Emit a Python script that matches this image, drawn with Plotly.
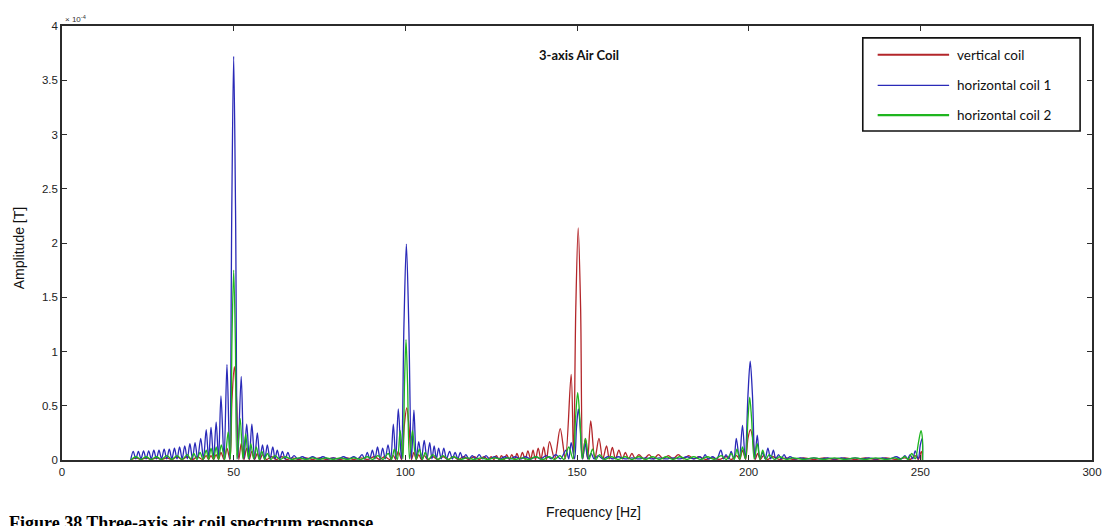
import plotly.graph_objects as go

# Amplitudes in units of 1e-4 T (axis shows "x 10^-4")
BLUE_F = [20.0, 20.75, 21.5, 22.25, 23.0, 23.75, 24.5, 25.25, 26.0, 26.75, 27.5, 28.25, 29.0, 29.75, 30.5, 31.25,
          32.0, 32.75, 33.5, 34.25, 35.0, 35.75, 36.5, 37.25, 38.0, 38.75, 39.5, 40.4, 41.2, 42.0, 42.7, 43.4,
          44.15, 44.9, 45.6, 46.3, 47.2, 48.05, 48.85, 49.45, 50.0, 50.55, 51.2, 52.2, 53.0, 53.8, 54.55, 55.3,
          56.1, 56.9, 57.65, 58.4, 59.1, 59.8, 60.6, 61.4, 62.05, 62.7, 63.45, 64.2, 65.0, 65.8, 66.6, 67.6,
          68.6, 70.0, 71.5, 73.0, 74.5, 76.0, 77.5, 79.0, 80.5, 82.0, 83.5, 85.0, 86.2, 87.4, 88.15, 88.9,
          89.65, 90.4, 91.15, 91.9, 92.65, 93.4, 94.15, 94.95, 95.75, 96.5, 97.2, 97.95, 98.85, 99.6, 100.3, 101.0,
          101.8, 102.5, 103.2, 103.9, 104.7, 105.5, 106.3, 107.1, 107.75, 108.4, 109.05, 109.7, 110.45, 111.2, 112.0, 112.9,
          113.7, 114.5, 115.3, 116.0, 116.8, 117.6, 118.5, 119.5, 120.5, 121.5, 122.5, 123.5, 124.5, 126.0, 127.5, 129.0,
          130.5, 132.0, 133.5, 135.0, 136.5, 138.0, 139.5, 141.0, 142.5, 143.8, 145.2, 146.8, 147.6, 148.3, 149.3, 149.85,
          150.4, 150.95, 151.6, 152.4, 153.2, 154.1, 155.0, 156.2, 157.5, 159.0, 160.5, 162.0, 164.0, 166.0, 168.0, 170.0,
          172.0, 174.0, 176.0, 178.0, 180.0, 182.0, 184.0, 185.8, 186.6, 187.3, 188.2, 189.5, 190.7, 191.9, 192.7, 193.4,
          194.2, 194.9, 195.7, 196.4, 197.3, 198.2, 199.0, 199.8, 200.45, 201.1, 201.8, 202.5, 203.3, 204.1, 204.8, 205.6,
          206.4, 207.2, 207.9, 208.7, 209.5, 210.3, 211.1, 212.0, 213.5, 215.0, 217.0, 219.0, 221.0, 223.0, 225.0, 227.0,
          229.0, 231.0, 233.0, 235.0, 237.0, 239.0, 241.0, 243.0, 244.5, 245.5, 246.3, 247.0, 247.8, 248.5, 249.4, 250.0,
          250.55, 250.65]
BLUE_A = [0.0, 0.08, 0.01, 0.08, 0.01, 0.085, 0.01, 0.085, 0.01, 0.09, 0.01, 0.09, 0.01, 0.1, 0.01, 0.1,
          0.01, 0.11, 0.01, 0.12, 0.01, 0.13, 0.01, 0.15, 0.01, 0.16, 0.01, 0.2, 0.01, 0.28, 0.01, 0.3,
          0.01, 0.35, 0.01, 0.59, 0.01, 0.88, 0.01, 2.3, 3.72, 2.3, 0.01, 0.77, 0.01, 0.33, 0.01, 0.33,
          0.01, 0.25, 0.01, 0.14, 0.01, 0.14, 0.01, 0.12, 0.01, 0.09, 0.01, 0.08, 0.01, 0.07, 0.01, 0.04,
          0.01, 0.03, 0.01, 0.03, 0.01, 0.03, 0.01, 0.02, 0.01, 0.03, 0.01, 0.03, 0.01, 0.05, 0.01, 0.07,
          0.01, 0.09, 0.01, 0.12, 0.01, 0.11, 0.01, 0.14, 0.01, 0.33, 0.01, 0.47, 0.01, 1.25, 1.99, 1.25,
          0.01, 0.46, 0.01, 0.17, 0.01, 0.18, 0.01, 0.16, 0.01, 0.13, 0.01, 0.11, 0.01, 0.11, 0.01, 0.08,
          0.01, 0.07, 0.01, 0.07, 0.01, 0.05, 0.01, 0.04, 0.01, 0.05, 0.01, 0.04, 0.01, 0.03, 0.01, 0.03,
          0.01, 0.03, 0.01, 0.03, 0.01, 0.03, 0.01, 0.04, 0.01, 0.05, 0.01, 0.09, 0.01, 0.16, 0.01, 0.3,
          0.47, 0.3, 0.01, 0.15, 0.01, 0.06, 0.01, 0.04, 0.01, 0.03, 0.01, 0.03, 0.01, 0.02, 0.01, 0.02,
          0.01, 0.02, 0.01, 0.02, 0.01, 0.03, 0.01, 0.03, 0.01, 0.05, 0.01, 0.03, 0.01, 0.09, 0.01, 0.05,
          0.01, 0.08, 0.01, 0.2, 0.01, 0.32, 0.01, 0.6, 0.91, 0.6, 0.01, 0.23, 0.01, 0.07, 0.01, 0.11,
          0.01, 0.09, 0.01, 0.05, 0.01, 0.05, 0.01, 0.03, 0.01, 0.02, 0.01, 0.02, 0.01, 0.02, 0.01, 0.02,
          0.01, 0.02, 0.01, 0.02, 0.01, 0.02, 0.01, 0.03, 0.01, 0.04, 0.01, 0.05, 0.01, 0.085, 0.01, 0.14,
          0.2, 0.0]

RED_F = [20.0, 21.5, 23.0, 24.5, 26.0, 27.5, 29.0, 30.5, 32.0, 33.5, 35.0, 36.5, 38.0, 39.5, 41.0, 42.0,
         42.7, 43.4, 44.15, 44.9, 45.6, 46.3, 47.2, 48.05, 48.9, 49.5, 50.2, 50.85, 51.5, 52.2, 53.0, 53.8,
         54.55, 55.3, 56.1, 56.9, 57.65, 58.4, 59.5, 61.0, 62.5, 64.0, 65.5, 67.0, 69.0, 71.0, 73.0, 75.0,
         77.0, 79.0, 81.0, 83.0, 85.0, 87.0, 89.0, 91.0, 92.5, 94.0, 95.5, 96.5, 97.2, 97.95, 98.9, 99.65,
         100.4, 101.1, 101.8, 102.5, 103.2, 103.9, 104.7, 105.5, 106.5, 108.0, 109.5, 111.0, 112.5, 114.0, 115.5, 117.0,
         118.5, 120.0, 121.5, 123.0, 124.0, 125.0, 125.8, 126.5, 127.3, 128.0, 128.8, 129.5, 130.3, 131.0, 131.8, 132.5,
         133.3, 134.1, 134.9, 135.7, 136.5, 137.2, 137.9, 138.7, 139.5, 140.3, 141.1, 142.0, 143.5, 145.1, 146.6, 148.3,
         149.0, 149.65, 150.35, 151.05, 151.7, 152.4, 153.1, 154.0, 155.2, 156.4, 157.5, 158.6, 159.4, 160.3, 161.2, 162.2,
         163.2, 164.1, 165.0, 166.0, 167.0, 168.0, 169.5, 171.0, 172.3, 173.7, 175.1, 176.6, 178.0, 179.5, 181.0, 182.5,
         184.0, 185.5, 187.5, 189.5, 191.5, 193.5, 195.0, 196.5, 197.4, 198.2, 199.1, 199.8, 200.5, 201.2, 201.9, 202.6,
         203.4, 204.3, 205.5, 207.0, 209.0, 211.0, 213.0, 216.0, 219.0, 222.0, 225.0, 228.0, 231.0, 234.0, 237.0, 240.0,
         243.0, 245.5, 247.0, 248.5, 249.4, 250.3, 250.6]
RED_A = [0.0, 0.02, 0.005, 0.02, 0.005, 0.02, 0.005, 0.02, 0.005, 0.03, 0.005, 0.03, 0.005, 0.03, 0.005, 0.04,
         0.005, 0.04, 0.005, 0.05, 0.005, 0.07, 0.005, 0.11, 0.005, 0.55, 0.86, 0.55, 0.005, 0.15, 0.005, 0.11,
         0.005, 0.08, 0.005, 0.06, 0.005, 0.05, 0.005, 0.03, 0.005, 0.03, 0.005, 0.02, 0.005, 0.02, 0.005, 0.02,
         0.005, 0.02, 0.005, 0.02, 0.005, 0.02, 0.005, 0.03, 0.005, 0.03, 0.005, 0.04, 0.005, 0.08, 0.005, 0.3,
         0.48, 0.3, 0.005, 0.07, 0.005, 0.05, 0.005, 0.04, 0.005, 0.03, 0.005, 0.03, 0.005, 0.03, 0.005, 0.03,
         0.005, 0.03, 0.005, 0.03, 0.005, 0.03, 0.005, 0.04, 0.005, 0.04, 0.005, 0.05, 0.005, 0.05, 0.005, 0.06,
         0.005, 0.07, 0.005, 0.085, 0.005, 0.09, 0.005, 0.11, 0.005, 0.12, 0.005, 0.17, 0.01, 0.29, 0.01, 0.79,
         0.01, 1.4, 2.14, 1.4, 0.01, 0.2, 0.01, 0.36, 0.01, 0.2, 0.01, 0.13, 0.01, 0.115, 0.01, 0.09,
         0.01, 0.07, 0.01, 0.06, 0.01, 0.05, 0.01, 0.05, 0.01, 0.05, 0.01, 0.04, 0.01, 0.05, 0.01, 0.04,
         0.01, 0.03, 0.005, 0.02, 0.005, 0.03, 0.005, 0.04, 0.005, 0.09, 0.005, 0.2, 0.28, 0.2, 0.005, 0.06,
         0.005, 0.04, 0.005, 0.03, 0.005, 0.02, 0.005, 0.02, 0.005, 0.02, 0.005, 0.02, 0.005, 0.02, 0.005, 0.02,
         0.005, 0.02, 0.005, 0.04, 0.005, 0.08, 0.0]

GREEN_F = [20.0, 21.5, 23.0, 24.5, 26.0, 27.5, 29.0, 30.5, 32.0, 33.5, 35.0, 36.5, 37.5, 38.4, 39.3, 40.2,
           41.1, 42.0, 42.7, 43.4, 44.15, 44.9, 45.6, 46.4, 47.4, 48.4, 49.05, 49.5, 50.0, 50.5, 50.95, 51.9,
           52.7, 53.5, 54.3, 55.0, 55.8, 56.6, 57.4, 58.2, 59.0, 59.8, 60.8, 62.0, 63.5, 65.0, 67.0, 69.0,
           71.0, 73.0, 75.0, 77.0, 79.0, 81.0, 83.0, 85.0, 87.0, 89.0, 90.5, 92.0, 93.5, 95.0, 96.0, 96.8,
           97.7, 98.5, 99.3, 99.75, 100.2, 100.65, 101.2, 102.1, 103.1, 104.1, 105.0, 105.8, 106.8, 108.0, 109.5, 111.0,
           112.5, 114.0, 116.0, 118.0, 120.0, 122.0, 124.0, 126.0, 128.0, 130.0, 132.0, 134.0, 136.0, 138.0, 140.0, 142.0,
           143.5, 145.0, 146.2, 147.6, 148.8, 149.6, 150.2, 150.8, 151.5, 152.5, 153.5, 154.5, 155.5, 156.6, 158.0, 160.0,
           162.0, 164.0, 166.0, 168.0, 170.0, 172.0, 174.0, 176.0, 178.0, 180.0, 182.0, 184.0, 186.0, 188.0, 190.0, 192.0,
           193.5, 194.9, 195.8, 196.6, 197.4, 198.2, 199.1, 199.8, 200.3, 200.85, 201.6, 202.5, 203.3, 204.1, 205.0, 206.0,
           207.5, 209.0, 211.0, 213.0, 216.0, 219.0, 222.0, 225.0, 228.0, 231.0, 234.0, 237.0, 240.0, 242.5, 244.0, 245.5,
           246.5, 247.5, 248.5, 249.5, 250.2, 250.6, 250.65]
GREEN_A = [0.0, 0.03, 0.005, 0.03, 0.005, 0.03, 0.005, 0.04, 0.005, 0.04, 0.005, 0.05, 0.005, 0.06, 0.005, 0.07,
           0.005, 0.09, 0.005, 0.11, 0.005, 0.12, 0.005, 0.14, 0.005, 0.26, 0.01, 1.1, 1.75, 1.1, 0.01, 0.38,
           0.01, 0.24, 0.01, 0.15, 0.01, 0.12, 0.005, 0.08, 0.005, 0.06, 0.005, 0.04, 0.005, 0.03, 0.005, 0.02,
           0.005, 0.02, 0.005, 0.02, 0.005, 0.02, 0.005, 0.02, 0.005, 0.03, 0.005, 0.04, 0.005, 0.06, 0.005, 0.1,
           0.005, 0.27, 0.01, 0.7, 1.11, 0.7, 0.01, 0.27, 0.005, 0.1, 0.005, 0.07, 0.005, 0.05, 0.005, 0.04,
           0.005, 0.03, 0.005, 0.02, 0.005, 0.02, 0.005, 0.02, 0.005, 0.02, 0.005, 0.02, 0.005, 0.03, 0.005, 0.03,
           0.005, 0.04, 0.005, 0.12, 0.01, 0.4, 0.62, 0.4, 0.01, 0.2, 0.005, 0.1, 0.005, 0.05, 0.005, 0.03,
           0.005, 0.03, 0.005, 0.03, 0.005, 0.03, 0.005, 0.03, 0.005, 0.03, 0.005, 0.03, 0.005, 0.03, 0.005, 0.04,
           0.005, 0.06, 0.005, 0.1, 0.005, 0.12, 0.01, 0.38, 0.58, 0.38, 0.01, 0.15, 0.005, 0.09, 0.005, 0.05,
           0.005, 0.03, 0.005, 0.02, 0.005, 0.02, 0.005, 0.02, 0.005, 0.02, 0.005, 0.02, 0.005, 0.02, 0.005, 0.03,
           0.005, 0.06, 0.01, 0.17, 0.27, 0.2, 0.0]

SERIES_NAMES = ["vertical coil", "horizontal coil 1", "horizontal coil 2"]
SERIES_COLORS = ["#b3262a", "#2a2ab8", "#1fb51f"]
X_TICKS = [0, 50, 100, 150, 200, 250, 300]
Y_TICKS = [0, 0.5, 1, 1.5, 2, 2.5, 3, 3.5, 4]
Y_TICK_TEXT = ["0", "0.5", "1", "1.5", "2", "2.5", "3", "3.5", "4"]

fig = go.Figure()
for f, a, name, col in [(RED_F, RED_A, SERIES_NAMES[0], SERIES_COLORS[0]),
                        (BLUE_F, BLUE_A, SERIES_NAMES[1], SERIES_COLORS[1]),
                        (GREEN_F, GREEN_A, SERIES_NAMES[2], SERIES_COLORS[2])]:
    fig.add_trace(go.Scatter(x=f, y=a, mode="lines", name=name, showlegend=False,
                             line=dict(color=col, width=1.3, shape="spline", smoothing=0.9)))

axis_common = dict(showline=True, linecolor="#2b2b2b", linewidth=1.5, mirror="ticks",
                   ticks="inside", ticklen=5, tickcolor="#2b2b2b", showgrid=False, zeroline=False,
                   tickfont=dict(family="Liberation Sans, Arial", size=11.5, color="#222222"))
fig.update_xaxes(range=[0, 300], tickvals=X_TICKS, **axis_common)
fig.update_yaxes(range=[0, 4], tickvals=Y_TICKS, ticktext=Y_TICK_TEXT, **axis_common)

# page offset: the browser body margin shifts the figure by 8 px
OFF = 8
FIG_W, FIG_H = 1114 - OFF, 526 - OFF
# plot area frame in page pixels: x 62..1100, y 22..460
L, R, T, B = 62, 1100, 22, 460
def px(xp):
    return (xp - L) / (R - L)
def py(yp):
    return (B - yp) / (B - T)

shapes = [dict(type="rect", xref="paper", yref="paper", x0=px(869), x1=px(1088), y0=py(128), y1=py(34),
               line=dict(color="#111111", width=1.6), fillcolor="white", layer="above")]
legend_y = [51, 82, 112]
legend_w = [2.2, 1.3, 2.2]
annotations = []
for name, col, ly, lw in zip(SERIES_NAMES, SERIES_COLORS, legend_y, legend_w):
    shapes.append(dict(type="line", xref="paper", yref="paper", x0=px(884), x1=px(956), y0=py(ly), y1=py(ly),
                       line=dict(color=col, width=lw), layer="above"))
    annotations.append(dict(text=name, xref="paper", yref="paper", x=px(962), y=py(ly), xanchor="left",
                            yanchor="middle", showarrow=False,
                            font=dict(family="Lato, Open Sans", size=13.5, color="#111111")))

annotations += [
    dict(text="<b>3-axis Air Coil</b>", xref="paper", yref="paper", x=px(583), y=py(51), xanchor="center",
         yanchor="middle", showarrow=False, font=dict(family="Lato, Open Sans", size=13, color="#111111")),
    dict(text="\u00d7 10<sup>-4</sup>", xref="paper", yref="paper", x=px(63), y=py(15), xanchor="left",
         yanchor="middle", showarrow=False, font=dict(family="Liberation Sans, Arial", size=8, color="#333333")),
    dict(text="Amplitude [T]", xref="paper", yref="paper", x=px(19), y=py(246), xanchor="center",
         yanchor="middle", textangle=-90, showarrow=False,
         font=dict(family="Liberation Sans, Arial", size=14, color="#111111")),
    dict(text="Frequency [Hz]", xref="paper", yref="paper", x=px(598), y=py(512), xanchor="center",
         yanchor="middle", showarrow=False, font=dict(family="Liberation Sans, Arial", size=14, color="#111111")),
    dict(text="<b>Figure 38 Three-axis air coil spectrum response</b>", xref="paper", yref="paper",
         x=px(8), y=py(512), xanchor="left", yanchor="top", showarrow=False, borderpad=0,
         font=dict(family="Liberation Serif, Times New Roman", size=18, color="#000000")),
]

fig.update_layout(width=FIG_W, height=FIG_H,
                  margin=dict(l=L - OFF, r=FIG_W - (R - OFF), t=T - OFF, b=FIG_H - (B - OFF)),
                  paper_bgcolor="white", plot_bgcolor="white", shapes=shapes, annotations=annotations,
                  showlegend=False)
fig.write_html("out.html")
